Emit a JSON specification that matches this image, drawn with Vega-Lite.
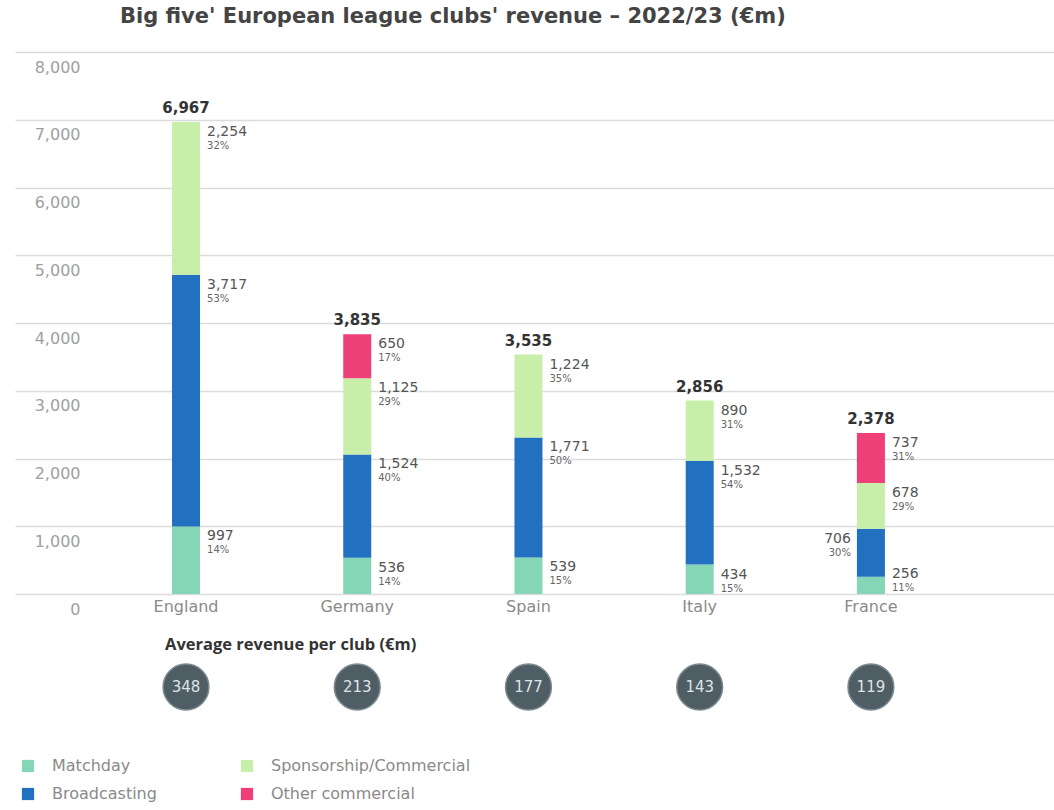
{
  "$schema": "https://vega.github.io/schema/vega-lite/v6.json",
  "padding": {"left": 15, "top": 6, "right": 0, "bottom": 0},
  "background": "white",
  "title": {"text": "Big five' European league clubs' revenue – 2022/23 (€m)", "anchor": "start", "dx": 105, "fontSize": 21, "font": "DejaVu Sans", "fontWeight": "bold", "color": "#444", "offset": 25},
  "datasets": {
    "segments": [
      {"country": "England", "cat": "Matchday", "value": 997, "pct": 0.14, "order": 1},
      {"country": "England", "cat": "Broadcasting", "value": 3717, "pct": 0.53, "order": 2},
      {"country": "England", "cat": "Sponsorship/Commercial", "value": 2254, "pct": 0.32, "order": 3},
      {"country": "Germany", "cat": "Matchday", "value": 536, "pct": 0.14, "order": 1},
      {"country": "Germany", "cat": "Broadcasting", "value": 1524, "pct": 0.40, "order": 2},
      {"country": "Germany", "cat": "Sponsorship/Commercial", "value": 1125, "pct": 0.29, "order": 3},
      {"country": "Germany", "cat": "Other commercial", "value": 650, "pct": 0.17, "order": 4},
      {"country": "Spain", "cat": "Matchday", "value": 539, "pct": 0.15, "order": 1},
      {"country": "Spain", "cat": "Broadcasting", "value": 1771, "pct": 0.50, "order": 2},
      {"country": "Spain", "cat": "Sponsorship/Commercial", "value": 1224, "pct": 0.35, "order": 3},
      {"country": "Italy", "cat": "Matchday", "value": 434, "pct": 0.15, "order": 1},
      {"country": "Italy", "cat": "Broadcasting", "value": 1532, "pct": 0.54, "order": 2},
      {"country": "Italy", "cat": "Sponsorship/Commercial", "value": 890, "pct": 0.31, "order": 3},
      {"country": "France", "cat": "Matchday", "value": 256, "pct": 0.11, "order": 1},
      {"country": "France", "cat": "Broadcasting", "value": 706, "pct": 0.30, "order": 2},
      {"country": "France", "cat": "Sponsorship/Commercial", "value": 678, "pct": 0.29, "order": 3},
      {"country": "France", "cat": "Other commercial", "value": 737, "pct": 0.31, "order": 4}
    ],
    "totals": [
      {"country": "England", "total": 6967, "avg": 348},
      {"country": "Germany", "total": 3835, "avg": 213},
      {"country": "Spain", "total": 3535, "avg": 177},
      {"country": "Italy", "total": 2856, "avg": 143},
      {"country": "France", "total": 2378, "avg": 119}
    ]
  },
  "spacing": 19,
  "vconcat": [
    {
      "width": 1039,
      "height": 542,
      "layer": [
        {
          "data": {"name": "segments"},
          "transform": [
            {"stack": "value", "groupby": ["country"], "sort": [{"field": "order", "order": "ascending"}], "as": ["y0", "y1"]}
          ],
          "encoding": {
            "x": {
              "field": "country", "type": "nominal",
              "scale": {"type": "band", "domain": ["England", "Germany", "Spain", "Italy", "France"], "paddingInner": 0, "paddingOuter": 0.534, "align": 0.467},
              "axis": {"title": null, "domain": false, "ticks": false, "labelFont": "DejaVu Sans", "labelFontSize": 16, "labelColor": "#8a8a8a", "labelPadding": 4, "labelAngle": 0}
            }
          },
          "layer": [
            {
              "mark": {"type": "bar", "size": 28},
              "encoding": {
                "y": {
                  "field": "y0", "type": "quantitative",
                  "scale": {"domain": [0, 8000], "nice": false},
                  "axis": {"title": null, "values": [0, 1000, 2000, 3000, 4000, 5000, 6000, 7000, 8000], "format": ",.0f", "domain": false, "ticks": false, "grid": true, "gridColor": "#dcdcdc", "gridWidth": 1.5, "labelPadding": -65, "labelAlign": "right", "labelBaseline": "middle", "labelOffset": 15, "labelFont": "DejaVu Sans", "labelFontSize": 16, "labelColor": "#a0a0a0"}
                },
                "y2": {"field": "y1"},
                "color": {
                  "field": "cat", "type": "nominal",
                  "scale": {"domain": ["Matchday", "Broadcasting", "Sponsorship/Commercial", "Other commercial"], "range": ["#84d6b6", "#2270c0", "#c8efaa", "#ee3f78"]},
                  "legend": {"orient": "none", "legendX": 5, "legendY": 706, "columns": 2, "title": null, "symbolType": "square", "symbolSize": 150, "labelFont": "DejaVu Sans", "labelFontSize": 16, "labelColor": "#8a8a8a", "labelOffset": 16, "labelLimit": 400, "columnPadding": 82, "rowPadding": 12}
                }
              }
            },
            {
              "transform": [{"filter": "datum.country !== 'France' || (datum.cat !== 'Broadcasting' && datum.cat !== 'Matchday')"}],
              "mark": {"type": "text", "align": "left", "baseline": "top", "dx": 21, "dy": 3, "font": "DejaVu Sans", "fontSize": 14, "color": "#555"},
              "encoding": {
                "y": {"field": "y1", "type": "quantitative"},
                "text": {"field": "value", "type": "quantitative", "format": ","}
              }
            },
            {
              "transform": [{"filter": "datum.country !== 'France' || (datum.cat !== 'Broadcasting' && datum.cat !== 'Matchday')"}],
              "mark": {"type": "text", "align": "left", "baseline": "top", "dx": 21, "dy": 19, "font": "DejaVu Sans", "fontSize": 10, "color": "#666"},
              "encoding": {
                "y": {"field": "y1", "type": "quantitative"},
                "text": {"field": "pct", "type": "quantitative", "format": ".0%"}
              }
            },
            {
              "transform": [{"filter": "datum.country === 'France' && datum.cat === 'Matchday'"}],
              "mark": {"type": "text", "align": "left", "baseline": "top", "dx": 21, "dy": -10, "font": "DejaVu Sans", "fontSize": 14, "color": "#555"},
              "encoding": {
                "y": {"field": "y1", "type": "quantitative"},
                "text": {"field": "value", "type": "quantitative", "format": ","}
              }
            },
            {
              "transform": [{"filter": "datum.country === 'France' && datum.cat === 'Matchday'"}],
              "mark": {"type": "text", "align": "left", "baseline": "top", "dx": 21, "dy": 6, "font": "DejaVu Sans", "fontSize": 10, "color": "#666"},
              "encoding": {
                "y": {"field": "y1", "type": "quantitative"},
                "text": {"field": "pct", "type": "quantitative", "format": ".0%"}
              }
            },
            {
              "transform": [{"filter": "datum.country === 'France' && datum.cat === 'Broadcasting'"}],
              "mark": {"type": "text", "align": "right", "baseline": "top", "dx": -20, "dy": 3, "font": "DejaVu Sans", "fontSize": 14, "color": "#555"},
              "encoding": {
                "y": {"field": "y1", "type": "quantitative"},
                "text": {"field": "value", "type": "quantitative", "format": ","}
              }
            },
            {
              "transform": [{"filter": "datum.country === 'France' && datum.cat === 'Broadcasting'"}],
              "mark": {"type": "text", "align": "right", "baseline": "top", "dx": -20, "dy": 19, "font": "DejaVu Sans", "fontSize": 10, "color": "#666"},
              "encoding": {
                "y": {"field": "y1", "type": "quantitative"},
                "text": {"field": "pct", "type": "quantitative", "format": ".0%"}
              }
            }
          ]
        },
        {
          "data": {"name": "totals"},
          "mark": {"type": "text", "baseline": "alphabetic", "dy": -9, "font": "DejaVu Sans", "fontSize": 15, "fontWeight": "bold", "color": "#333"},
          "encoding": {
            "x": {"field": "country", "type": "nominal"},
            "y": {"field": "total", "type": "quantitative"},
            "text": {"field": "total", "type": "quantitative", "format": ","}
          }
        }
      ]
    },
    {
      "width": 1039,
      "height": 50,
      "data": {"name": "totals"},
      "title": {"text": "Average revenue per club (€m)", "anchor": "start", "dx": 150, "fontSize": 16.5, "fontWeight": "bold", "color": "#333", "offset": 8},
      "encoding": {
        "x": {
          "field": "country", "type": "nominal",
          "scale": {"type": "band", "domain": ["England", "Germany", "Spain", "Italy", "France"], "paddingInner": 0, "paddingOuter": 0.534, "align": 0.467},
          "axis": null
        }
      },
      "layer": [
        {
          "mark": {"type": "point", "shape": "circle", "filled": true, "size": 2100, "color": "#4f5d64", "opacity": 1, "stroke": "#7d8a90", "strokeWidth": 1.5}
        },
        {
          "mark": {"type": "text", "font": "DejaVu Sans", "fontSize": 15, "color": "#dde4e7", "baseline": "middle"},
          "encoding": {"text": {"field": "avg", "type": "quantitative"}}
        }
      ]
    }
  ],
  "config": {
    "font": "Open Sans",
    "view": {"stroke": null}
  }
}
